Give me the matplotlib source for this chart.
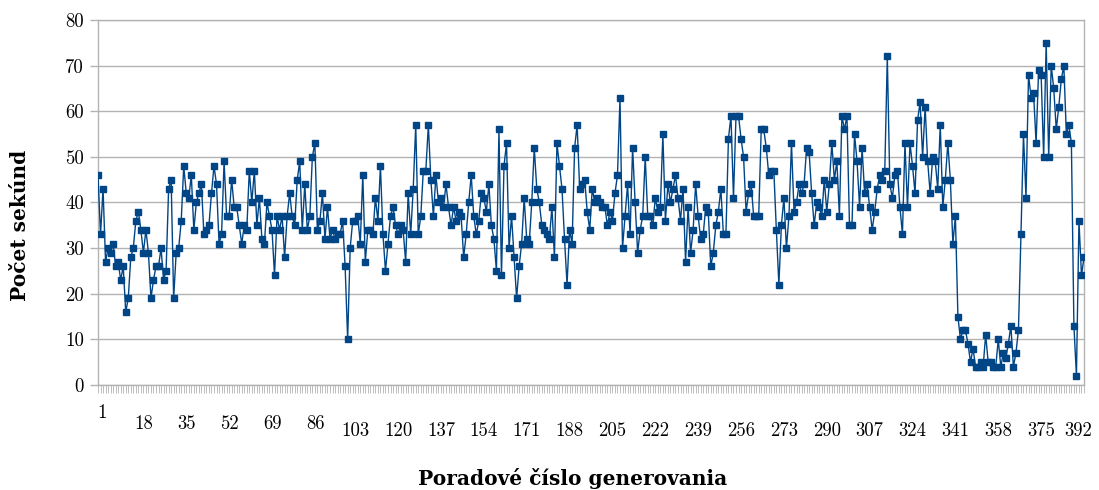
import matplotlib
matplotlib.use("Agg")
import matplotlib.pyplot as plt
import matplotlib.transforms as mtransforms
import numpy as np

# cas generovania v sekundach, poradove cislo 1..392
sek_001_100 = [
    46, 33, 43, 27, 30, 29, 31, 26, 27, 23, 26, 16, 19, 28, 30, 36, 38, 34, 29, 34,
    29, 19, 23, 26, 26, 30, 23, 25, 43, 45, 19, 29, 30, 36, 48, 42, 41, 46, 34, 40,
    42, 44, 33, 34, 35, 42, 48, 44, 31, 33, 49, 37, 37, 45, 39, 39, 35, 31, 35, 34,
    47, 40, 47, 35, 41, 32, 31, 40, 37, 34, 24, 37, 34, 37, 28, 37, 42, 37, 35, 45,
    49, 34, 44, 34, 37, 50, 53, 34, 36, 42, 32, 39, 32, 34, 32, 33, 33, 36, 26, 10]
sek_101_200 = [
    30, 36, 36, 37, 31, 46, 27, 34, 34, 33, 41, 36, 48, 33, 25, 31, 37, 39, 35, 33,
    35, 34, 27, 42, 33, 43, 57, 33, 37, 47, 47, 57, 45, 37, 46, 40, 41, 39, 44, 39,
    35, 39, 36, 38, 37, 28, 33, 40, 46, 37, 33, 36, 42, 41, 38, 44, 35, 32, 25, 56,
    24, 48, 53, 30, 37, 28, 19, 26, 31, 41, 32, 31, 40, 52, 43, 40, 35, 34, 33, 32,
    39, 28, 53, 48, 43, 32, 22, 34, 31, 52, 57, 43, 44, 45, 38, 34, 43, 40, 41, 40]
sek_201_300 = [
    39, 39, 35, 38, 36, 42, 46, 63, 30, 37, 44, 33, 52, 40, 29, 34, 37, 50, 37, 37,
    35, 41, 38, 39, 55, 36, 44, 40, 43, 46, 41, 36, 43, 27, 39, 29, 34, 44, 37, 32,
    33, 39, 38, 26, 29, 35, 38, 43, 33, 33, 54, 59, 41, 59, 59, 54, 50, 38, 42, 44,
    37, 37, 37, 56, 56, 52, 46, 47, 47, 34, 22, 35, 41, 30, 37, 53, 38, 40, 44, 42,
    44, 52, 51, 42, 35, 40, 39, 37, 45, 38, 44, 53, 45, 49, 37, 59, 56, 59, 35, 35]
sek_301_392 = [
    55, 49, 39, 52, 42, 44, 39, 34, 38, 43, 46, 45, 47, 72, 44, 41, 46, 47, 39, 33,
    53, 39, 53, 48, 42, 58, 62, 50, 61, 49, 42, 50, 49, 43, 57, 39, 45, 53, 45, 31,
    37, 15, 10, 12, 12, 9, 5, 8, 4, 4, 5, 4, 11, 5, 5, 4, 4, 10, 4, 7,
    6, 9, 13, 4, 7, 12, 33, 55, 41, 68, 63, 64, 53, 69, 68, 50, 75, 50, 70, 65,
    56, 61, 67, 70, 55, 57, 53, 13, 2, 36, 24, 28]

x_labels = [1, 18, 35, 52, 69, 86, 103, 120, 137, 154, 171, 188, 205, 222, 239,
            256, 273, 290, 307, 324, 341, 358, 375, 392]
y_ticks = [0, 10, 20, 30, 40, 50, 60, 70, 80]

sekundy = sek_001_100 + sek_101_200 + sek_201_300 + sek_301_392
poradie = np.arange(1, len(sekundy) + 1)

blue = '#004586'
gray = '#b3b3b3'

fig = plt.figure(figsize=(10.99, 4.90), dpi=100)
ax = fig.add_axes([98 / 1099, 1 - 385 / 490, 986 / 1099, 365 / 490])

ax.plot(poradie, sekundy, color=blue, lw=1.0, marker='s', ms=3.8,
        mfc=blue, mec=blue, zorder=3)

ax.set_xlim(1, len(sekundy))
ax.set_ylim(0, 80)
ax.set_yticks(y_ticks)
ax.set_yticklabels([str(v) for v in y_ticks], fontfamily='cmr10', fontsize=13.5)
ax.yaxis.grid(True, color=gray, lw=1.0)
ax.set_axisbelow(True)
for s in ax.spines.values():
    s.set_color(gray)
    s.set_linewidth(1.0)

ax.set_xticks(poradie)
ax.set_xticklabels([])
ax.tick_params(axis='x', length=6, width=0.6, color=gray)
ax.tick_params(axis='y', length=6, width=1.0, color=gray, pad=4)

# popisky osi x - posunute podla poctu cifier ako v originale
trans = mtransforms.blended_transform_factory(ax.transData, ax.transAxes)
for lab in x_labels:
    n = len(str(lab))
    yoff = {1: -0.077, 2: -0.107, 3: -0.126}[n]
    dx = {1: 4, 2: 3, 3: 0}[n]
    if lab == x_labels[-1]:
        dx = -6
    t = trans + mtransforms.ScaledTranslation(dx / 100, 0, fig.dpi_scale_trans)
    ax.text(lab, yoff, str(lab), transform=t, ha='center', va='center',
            fontfamily='cmr10', fontsize=13.5)

fig.text(20 / 1099, 1 - 225 / 490, 'Počet sekúnd', rotation=90,
         ha='center', va='center', fontsize=14.5, fontweight='bold',
         fontfamily='DejaVu Serif')
fig.text(573 / 1099, 1 - 478 / 490, 'Poradové číslo generovania',
         ha='center', va='center', fontsize=14.5, fontweight='bold',
         fontfamily='DejaVu Serif')

fig.savefig('out.png', dpi=100)
